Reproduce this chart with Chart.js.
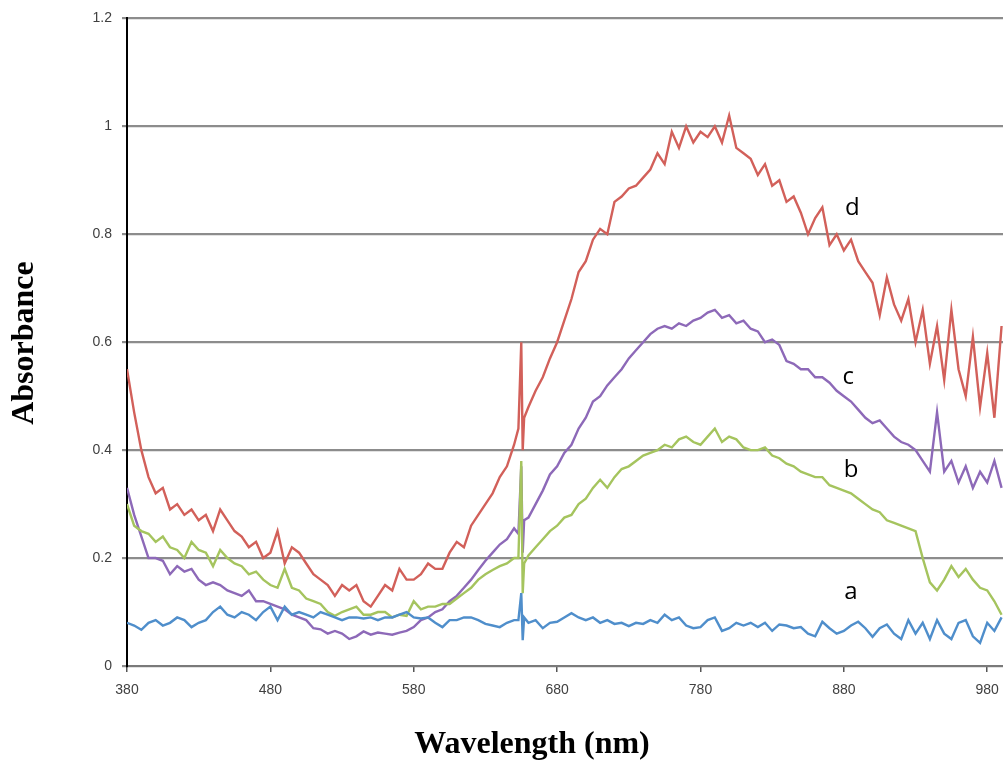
<!DOCTYPE html>
<html>
<head>
<meta charset="utf-8">
<script src="https://cdn.jsdelivr.net/npm/chart.js@4/dist/chart.umd.min.js"></script>
<style>
  html, body { margin: 0; padding: 0; background: #fff; }
</style>
</head>
<body>
<canvas id="chart" width="1003" height="763"></canvas>
<script>
// wavelength grid (nm), with extra samples around the 655 nm lamp spike
const wavelengths = [
  380, 385, 390, 395, 400, 405, 410, 415, 420, 425,
  430, 435, 440, 445, 450, 455, 460, 465, 470, 475,
  480, 485, 490, 495, 500, 505, 510, 515, 520, 525,
  530, 535, 540, 545, 550, 555, 560, 565, 570, 575,
  580, 585, 590, 595, 600, 605, 610, 615, 620, 625,
  630, 635, 640, 645, 650,
  653, 655, 656, 657,
  660, 665, 670, 675, 680, 685, 690, 695, 700, 705,
  710, 715, 720, 725, 730, 735, 740, 745, 750, 755,
  760, 765, 770, 775, 780, 785, 790, 795, 800, 805,
  810, 815, 820, 825, 830, 835, 840, 845, 850, 855,
  860, 865, 870, 875, 880, 885, 890, 895, 900, 905,
  910, 915, 920, 925, 930, 935, 940, 945, 950, 955,
  960, 965, 970, 975, 980, 985, 990
]

const seriesA = [
  0.08, 0.075, 0.067, 0.08, 0.085, 0.075, 0.08, 0.09, 0.085, 0.072,
  0.08, 0.085, 0.10, 0.11, 0.095, 0.09, 0.10, 0.095, 0.085, 0.10,
  0.11, 0.085, 0.11, 0.095, 0.10, 0.095, 0.09, 0.10, 0.095, 0.09,
  0.085, 0.09, 0.09, 0.088, 0.09, 0.085, 0.09, 0.09, 0.095, 0.10,
  0.09, 0.088, 0.09, 0.08, 0.072, 0.085, 0.085, 0.09, 0.09, 0.085,
  0.078, 0.075, 0.072, 0.08, 0.085,
  0.085, 0.135, 0.048, 0.09,
  0.08, 0.085, 0.07, 0.08, 0.082, 0.09, 0.098, 0.09, 0.085, 0.09,
  0.08, 0.085, 0.078, 0.08, 0.074, 0.08, 0.078, 0.085, 0.08, 0.095,
  0.085, 0.09, 0.075, 0.07, 0.072, 0.085, 0.09, 0.065, 0.07, 0.08,
  0.075, 0.08, 0.072, 0.08, 0.065, 0.077, 0.075, 0.07, 0.072, 0.06,
  0.055, 0.082, 0.07, 0.06, 0.065, 0.075, 0.082, 0.07, 0.054, 0.07,
  0.077, 0.06, 0.05, 0.085, 0.06, 0.08, 0.05, 0.085, 0.06, 0.05,
  0.08, 0.085, 0.055, 0.043, 0.08, 0.065, 0.09
]

const seriesB = [
  0.30, 0.26, 0.25, 0.245, 0.23, 0.24, 0.22, 0.215, 0.20, 0.23,
  0.215, 0.21, 0.185, 0.215, 0.20, 0.19, 0.185, 0.17, 0.175, 0.16,
  0.15, 0.145, 0.18, 0.145, 0.14, 0.125, 0.12, 0.115, 0.10, 0.093,
  0.10, 0.105, 0.11, 0.095, 0.095, 0.10, 0.10, 0.09, 0.095, 0.093,
  0.12, 0.105, 0.11, 0.11, 0.115, 0.115, 0.125, 0.135, 0.145, 0.16,
  0.17, 0.178, 0.185, 0.19, 0.20,
  0.20, 0.38, 0.135, 0.19,
  0.205, 0.22, 0.235, 0.25, 0.26, 0.275, 0.28, 0.30, 0.31, 0.33,
  0.345, 0.33, 0.35, 0.365, 0.37, 0.38, 0.39, 0.395, 0.40, 0.41,
  0.405, 0.42, 0.425, 0.415, 0.41, 0.425, 0.44, 0.415, 0.425, 0.42,
  0.405, 0.40, 0.40, 0.405, 0.39, 0.385, 0.375, 0.37, 0.36, 0.355,
  0.35, 0.35, 0.335, 0.33, 0.325, 0.32, 0.31, 0.30, 0.29, 0.285,
  0.27, 0.265, 0.26, 0.255, 0.25, 0.20, 0.155, 0.14, 0.16, 0.185,
  0.165, 0.18, 0.16, 0.145, 0.14, 0.12, 0.095
]

const seriesC = [
  0.33, 0.28, 0.24, 0.20, 0.20, 0.195, 0.17, 0.185, 0.175, 0.18,
  0.16, 0.15, 0.155, 0.15, 0.14, 0.135, 0.13, 0.14, 0.12, 0.12,
  0.115, 0.11, 0.105, 0.095, 0.09, 0.085, 0.07, 0.068, 0.06, 0.065,
  0.06, 0.05, 0.055, 0.064, 0.058, 0.062, 0.06, 0.058, 0.062, 0.065,
  0.072, 0.085, 0.09, 0.10, 0.105, 0.12, 0.13, 0.145, 0.16, 0.178,
  0.195, 0.21, 0.225, 0.235, 0.255,
  0.245, 0.37, 0.21, 0.27,
  0.275, 0.30, 0.325, 0.355, 0.37, 0.395, 0.41, 0.44, 0.46, 0.49,
  0.50, 0.52, 0.535, 0.55, 0.57, 0.585, 0.60, 0.615, 0.625, 0.63,
  0.625, 0.635, 0.63, 0.64, 0.645, 0.655, 0.66, 0.645, 0.65, 0.635,
  0.64, 0.625, 0.62, 0.60, 0.605, 0.595, 0.565, 0.56, 0.55, 0.55,
  0.535, 0.535, 0.525, 0.51, 0.50, 0.49, 0.475, 0.46, 0.45, 0.455,
  0.44, 0.425, 0.415, 0.41, 0.40, 0.38, 0.36, 0.47, 0.36, 0.38,
  0.34, 0.37, 0.33, 0.36, 0.34, 0.38, 0.33
]

const seriesD = [
  0.55, 0.47, 0.40, 0.35, 0.32, 0.33, 0.29, 0.30, 0.28, 0.29,
  0.27, 0.28, 0.25, 0.29, 0.27, 0.25, 0.24, 0.22, 0.23, 0.20,
  0.21, 0.25, 0.19, 0.22, 0.21, 0.19, 0.17, 0.16, 0.15, 0.13,
  0.15, 0.14, 0.15, 0.12, 0.11, 0.13, 0.15, 0.14, 0.18, 0.16,
  0.16, 0.17, 0.19, 0.18, 0.18, 0.21, 0.23, 0.22, 0.26, 0.28,
  0.30, 0.32, 0.35, 0.37, 0.41,
  0.44, 0.60, 0.40, 0.46,
  0.48, 0.51, 0.535, 0.57, 0.60, 0.64, 0.68, 0.73, 0.75, 0.79,
  0.81, 0.80, 0.86, 0.87, 0.885, 0.89, 0.905, 0.92, 0.95, 0.93,
  0.99, 0.96, 1.0, 0.97, 0.99, 0.98, 1.0, 0.97, 1.02, 0.96,
  0.95, 0.94, 0.91, 0.93, 0.89, 0.90, 0.86, 0.87, 0.84, 0.80,
  0.83, 0.85, 0.78, 0.80, 0.77, 0.79, 0.75, 0.73, 0.71, 0.65,
  0.72, 0.67, 0.64, 0.68, 0.60, 0.66, 0.56, 0.63, 0.53, 0.66,
  0.55, 0.50, 0.61, 0.48, 0.58, 0.46, 0.63
]

const xTicks = [380, 480, 580, 680, 780, 880, 980]
const xTitle = 'Wavelength (nm)'
const yTitle = 'Absorbance'

// curve letters, anchored in data units (nm, absorbance)
const curveLabels = [
  { text: 'd', nm: 886, value: 0.848 },
  { text: 'c', nm: 883, value: 0.535 },
  { text: 'b', nm: 885, value: 0.363 },
  { text: 'a', nm: 885, value: 0.137 }
]

const toPoints = (values) => values.map((v, i) => ({ x: wavelengths[i], y: v }))

const textLayer = {
  id: 'textLayer',
  afterDraw(chart) {
    const { ctx } = chart
    const { x, y } = chart.scales
    ctx.save()
    ctx.fillStyle = '#000'
    ctx.textAlign = 'center'
    ctx.textBaseline = 'middle'

    ctx.font = '24px "Open Sans", "Liberation Sans", sans-serif'
    curveLabels.forEach((l) => {
      ctx.fillText(l.text, x.getPixelForValue(l.nm), y.getPixelForValue(l.value))
    })

    ctx.font = 'bold 32px "Liberation Serif", "Times New Roman", serif'
    ctx.fillText(xTitle, 532, 745)
    ctx.translate(25, 343)
    ctx.rotate(-Math.PI / 2)
    ctx.fillText(yTitle, 0, 0)
    ctx.restore()
  }
}

const line = (label, values, color) => ({
  label,
  data: toPoints(values),
  borderColor: color,
  borderWidth: 2.4,
  pointRadius: 0,
  tension: 0,
  fill: false
})

const tickFont = { family: '"Liberation Sans", Arial, sans-serif', size: 14 }

new Chart(document.getElementById('chart'), {
  type: 'line',
  data: {
    datasets: [
      line('a', seriesA, '#4f8ecb'),
      line('b', seriesB, '#a5c45e'),
      line('c', seriesC, '#8d69b8'),
      line('d', seriesD, '#d2605a')
    ]
  },
  options: {
    responsive: false,
    animation: false,
    layout: { padding: { top: 18, right: 0, bottom: 0, left: 0 } },
    plugins: {
      legend: { display: false },
      tooltip: { enabled: false }
    },
    scales: {
      x: {
        type: 'linear',
        min: 380,
        max: 991,
        afterBuildTicks: (scale) => {
          scale.ticks = xTicks.map((v) => ({ value: v }))
        },
        afterFit: (scale) => {
          // the plot runs off the right edge, as in the source figure
          scale.height = 97
          scale.paddingLeft = 0
          scale.paddingRight = 0
        },
        border: { display: true, color: '#7a7a7a', width: 2 },
        grid: {
          drawOnChartArea: false,
          drawTicks: true,
          tickLength: 6,
          color: '#555',
          lineWidth: 1.5
        },
        ticks: {
          padding: 10,
          maxRotation: 0,
          color: '#404040',
          font: tickFont
        }
      },
      y: {
        min: 0,
        max: 1.2,
        afterFit: (scale) => {
          scale.width = 127
        },
        border: { display: true, color: '#000', width: 2 },
        grid: {
          color: '#8c8c8c',
          lineWidth: 2.2,
          drawTicks: true,
          tickLength: 5
        },
        ticks: {
          stepSize: 0.2,
          padding: 10,
          color: '#404040',
          font: tickFont,
          callback: (v) => String(Number(v.toFixed(1)))
        }
      }
    }
  },
  plugins: [textLayer]
})
</script>
</body>
</html>
